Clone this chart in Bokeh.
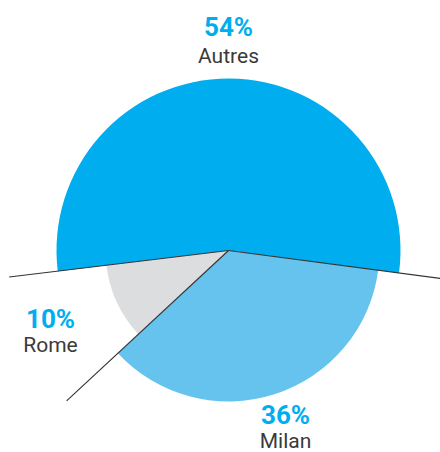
import math
from bokeh.plotting import figure
from bokeh.models import Range1d, ColumnDataSource
from bokeh.core.properties import value
from bokeh.embed import file_html
from bokeh.resources import INLINE

# Data
labels = ["Autres", "Rome", "Milan"]
shares = [54, 10, 36]
pct_labels = ["54%", "10%", "36%"]
colors = ["#00AEEF", "#DCDDDF", "#66C3EE"]
radii = [172, 123, 151]

W, H = 440, 452
cx, cy = 228, H - 250
start_deg = -7.5

p = figure(width=W, height=H, output_backend="svg", toolbar_location=None,
           x_range=Range1d(0, W), y_range=Range1d(0, H), min_border=0)
p.axis.visible = False
p.grid.visible = False
p.outline_line_color = None
p.background_fill_color = "white"

starts, ends = [], []
a = math.radians(start_deg)
for s in shares:
    starts.append(a)
    a += 2 * math.pi * s / 100
    ends.append(a)

src = ColumnDataSource(dict(x=[cx] * 3, y=[cy] * 3, r=radii, s=starts, e=ends, c=colors))
p.wedge(x="x", y="y", radius="r", start_angle="s", end_angle="e", fill_color="c",
        line_color=None, source=src)

# boundary lines
L = 221
xs0, ys0, xs1, ys1 = [], [], [], []
for ang in starts:
    xs0.append(cx); ys0.append(cy)
    xs1.append(cx + L * math.cos(ang)); ys1.append(cy + L * math.sin(ang))
p.segment(x0=xs0, y0=ys0, x1=xs1, y1=ys1, line_color="#333333", line_width=1.1)

# labels (screen-y of text bottoms)
pos = {"Autres": (228, 26, 55), "Rome": (50, 318, 344), "Milan": (285, 414, 440)}
for lab, pct in zip(labels, pct_labels):
    x, yp, yn = pos[lab]
    p.text(x=[x], y=[H - yp], text=[pct], text_align="center", text_baseline="alphabetic",
           text_font=value("Roboto"), text_font_style="bold", text_font_size="26px",
           text_color="#00AEEF")
    p.text(x=[x], y=[H - yn], text=[lab], text_align="center", text_baseline="alphabetic",
           text_font=value("Roboto"), text_font_size="21px", text_color="#3a3a3a")

open("out.html", "w").write(file_html(p, INLINE))
